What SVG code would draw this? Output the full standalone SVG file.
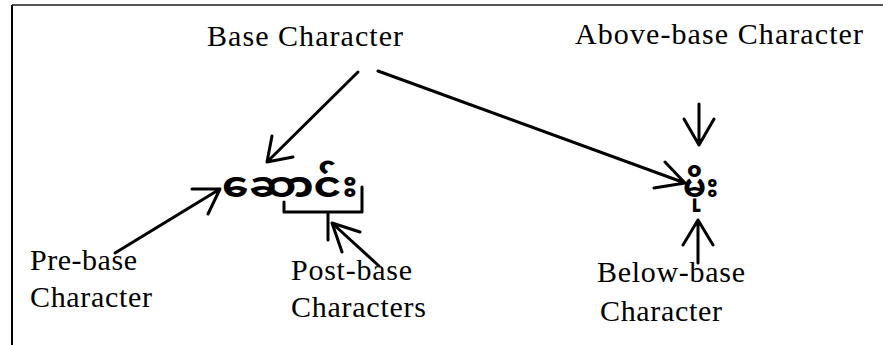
<svg xmlns="http://www.w3.org/2000/svg" width="883" height="345" viewBox="0 0 883 345">
  <style>
    .lbl { font-family: "Liberation Serif", "Times New Roman", serif; font-size: 30px; fill: #000; }
    .mm { font-family: "Noto Sans Myanmar", "Padauk", "Myanmar Text", "Myanmar3", sans-serif; font-weight: bold; fill: #000; }
    .ln { stroke: #000; stroke-width: 3; fill: none; stroke-linecap: round; stroke-linejoin: round; }
  </style>
  <rect width="883" height="345" fill="#fff"/>
  <!-- frame: only the top and left edges fall inside the canvas -->
  <g id="frame">
    <line x1="12" y1="5" x2="883" y2="5" stroke="#555" stroke-width="2"/>
    <line x1="12" y1="5" x2="12" y2="345" stroke="#000" stroke-width="2"/>
  </g>
  <g id="base-label"><text class="lbl" x="207" y="46" textLength="196">Base Character</text></g>
  <g id="above-label"><text class="lbl" x="575" y="44" textLength="288">Above-base  Character</text></g>
  <g id="pre-label"><text class="lbl" x="30" y="270" textLength="107">Pre-base</text><text class="lbl" x="30" y="307" textLength="122">Character</text></g>
  <g id="post-label"><text class="lbl" x="291" y="280" textLength="121">Post-base</text><text class="lbl" x="291" y="317" textLength="135">Characters</text></g>
  <g id="below-label"><text class="lbl" x="597" y="282" textLength="148">Below-base</text><text class="lbl" x="600" y="321" textLength="122">Character</text></g>
  <g id="word-saung"><text class="mm" x="222" y="197" font-size="36" textLength="136" lengthAdjust="spacingAndGlyphs">ဆောင်း</text></g>
  <g id="word-mo"><text class="mm" x="683" y="197" font-size="33">မိုး</text></g>
  <g id="connectors">
    <!-- Base Character to first word -->
    <path class="ln" d="M358 72 L267 162 M272 136 L267 162 L293 157"/>
    <!-- Base Character to second word -->
    <path class="ln" d="M378 71 L685 183 M665 162 L685 183 L654 188"/>
    <!-- Above-base -->
    <path class="ln" d="M699 104 L699 145 M684 119 L699 145 L714 119"/>
    <!-- Below-base -->
    <path class="ln" d="M698 263 L698 220 M683 245 L698 220 L713 245"/>
    <!-- Pre-base -->
    <path class="ln" d="M115 253 L220 189 M192 189 L220 189 L208 214"/>
    <!-- Post-base -->
    <path class="ln" d="M379 266 L332 223 M360 232 L332 223 L342 252"/>
    <!-- brace under the post-base part of the word -->
    <path class="ln" d="M284 202 L284 212 L362 212 L362 187 M328 212 L328 240"/>
  </g>
</svg>
